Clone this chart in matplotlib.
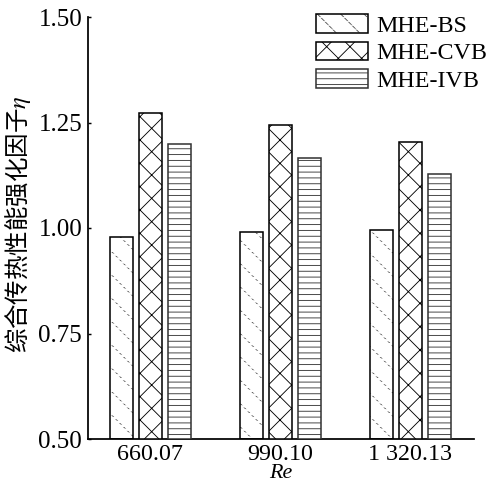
import numpy as np
import matplotlib
matplotlib.use("Agg")
import matplotlib.pyplot as plt
from matplotlib.patches import Patch

# — data —
re_labels = ["660.07", "990.10", "1 320.13"]
series = ["MHE-BS", "MHE-CVB", "MHE-IVB"]
eta_bs = [0.978, 0.990, 0.996]
eta_cvb = [1.272, 1.244, 1.204]
eta_ivb = [1.199, 1.166, 1.127]
yticks = [0.50, 0.75, 1.00, 1.25, 1.50]

DPI = 70
def pt(px):
    return px * 72.0 / DPI

plt.rcParams["font.family"] = ["Liberation Serif", "DejaVu Serif"]
plt.rcParams["hatch.linewidth"] = 0.9
plt.rcParams["mathtext.fontset"] = "stix"

fig = plt.figure(figsize=(490 / DPI, 489 / DPI), dpi=DPI)
ax = fig.add_axes([88 / 490, 1 - 439 / 489, (474 - 88) / 490, (439 - 17) / 489])

x = np.arange(len(re_labels))
w = 0.177
off = 0.223
base = 0.5


def thick_hatch(patches, lw):
    for p in patches:
        if hasattr(p, "set_hatch_linewidth"):
            p.set_hatch_linewidth(lw)


def dotted_diag(target, xs, heights, width, bottom):
    # gray diagonal hatch broken up by white horizontal hatch -> dotted look
    target.bar(xs, heights, width, bottom=bottom, color="white",
               edgecolor="#505050", hatch="\\", linewidth=0, zorder=2)
    cover = target.bar(xs, heights, width, bottom=bottom, fill=False,
                       edgecolor="white", hatch="---", linewidth=0, zorder=2.5)
    thick_hatch(cover, 2.4)
    target.bar(xs, heights, width, bottom=bottom, fill=False,
               edgecolor="black", linewidth=1.6, zorder=3)


dotted_diag(ax, x - off, [v - base for v in eta_bs], w, base)
ax.bar(x, [v - base for v in eta_cvb], w, bottom=base, color="white",
       edgecolor="black", hatch="x", linewidth=1.6, zorder=3)
ax.bar(x + off, [v - base for v in eta_ivb], w, bottom=base, color="white",
       edgecolor="#333333", hatch="--", linewidth=1.6, zorder=3)

ax.set_xlim(-0.477, 2.49)
ax.set_ylim(0.5, 1.5)
ax.set_yticks(yticks)
ax.set_yticklabels([f"{t:.2f}" for t in yticks])
ax.set_xticks(x)
ax.set_xticklabels(re_labels)
ax.tick_params(axis="y", direction="in", length=3, width=1.5, pad=6,
               labelsize=pt(25))
ax.tick_params(axis="x", length=0, pad=5, labelsize=pt(24))
for s in ["top", "right"]:
    ax.spines[s].set_visible(False)
for s in ["left", "bottom"]:
    ax.spines[s].set_linewidth(1.8)

ax.set_xlabel("Re", fontstyle="italic", fontsize=pt(22), labelpad=-1)
ax.set_ylabel("综合传热性能强化因子$\\eta$", fontsize=pt(24.5),
              family=["Noto Sans CJK SC", "DejaVu Sans"])
ax.yaxis.set_label_coords(-0.142, 0.51)

bs_fill = Patch(facecolor="white", edgecolor="#505050", hatch="\\", linewidth=0)
bs_cover = Patch(fill=False, edgecolor="white", hatch="---", linewidth=0)
thick_hatch([bs_cover], 2.4)
bs_edge = Patch(fill=False, edgecolor="black", linewidth=1.6)
handles = [
    (bs_fill, bs_cover, bs_edge),
    Patch(facecolor="white", edgecolor="black", hatch="x", linewidth=1.6),
    Patch(facecolor="white", edgecolor="#333333", hatch="--", linewidth=1.6),
]
ax.legend(handles, series, loc="upper right", bbox_to_anchor=(1.034, 1.007),
          frameon=False, fontsize=pt(24), handlelength=2.17, handleheight=0.83,
          labelspacing=0.2, handletextpad=0.33, borderaxespad=0, borderpad=0)

fig.savefig("out.png", dpi=DPI)
